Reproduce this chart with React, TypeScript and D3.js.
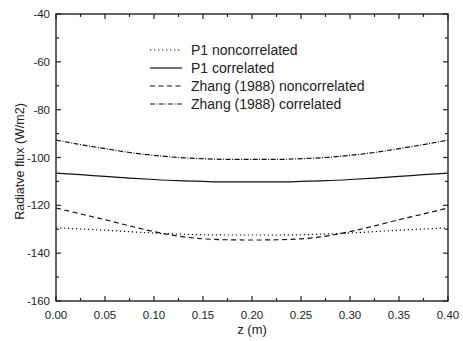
import React from "react";
import * as d3 from "d3";

const zValues = [0, 0.025, 0.05, 0.075, 0.1, 0.125, 0.15, 0.175, 0.2, 0.225, 0.25, 0.275, 0.3, 0.325, 0.35, 0.375, 0.4];
const p1NonCorrelated = [-129.4, -129.9, -130.4, -131.0, -131.6, -132.0, -132.3, -132.4, -132.4, -132.4, -132.3, -132.0, -131.6, -131.0, -130.4, -129.9, -129.4];
const p1Correlated = [-106.5, -107.2, -107.9, -108.6, -109.2, -109.7, -110.0, -110.2, -110.2, -110.2, -110.0, -109.7, -109.2, -108.6, -107.9, -107.2, -106.5];
const zhangNonCorrelated = [-121.1, -123.6, -126.0, -128.6, -131.0, -132.9, -134.0, -134.4, -134.5, -134.4, -134.0, -132.9, -131.0, -128.6, -126.0, -123.6, -121.1];
const zhangCorrelated = [-92.7, -94.6, -96.3, -97.9, -99.1, -100.0, -100.5, -100.8, -100.8, -100.8, -100.5, -100.0, -99.1, -97.9, -96.3, -94.6, -92.7];

const seriesNames = ["P1 noncorrelated", "P1 correlated", "Zhang (1988) noncorrelated", "Zhang (1988) correlated"];
const seriesDash = ["1.3,2.7", "none", "5,3.5", "5,1.5,1,1.5"];
const xTicks = [0, 0.05, 0.1, 0.15, 0.2, 0.25, 0.3, 0.35, 0.4];
const yTicks = [-40, -60, -80, -100, -120, -140, -160];
const xMinor = [0.025, 0.075, 0.125, 0.175, 0.225, 0.275, 0.325, 0.375];
const yMinor = [-50, -70, -90, -110, -130, -150];

export default function App() {
  const W = 463, H = 341;
  const L = 56, R = 448, T = 14, B = 301;
  const x = d3.scaleLinear().domain([0, 0.4]).range([L, R]);
  const y = d3.scaleLinear().domain([-160, -40]).range([B, T]);
  const allSeries = [p1NonCorrelated, p1Correlated, zhangNonCorrelated, zhangCorrelated];
  const line = d3.line<number>().x((_, i) => x(zValues[i])).y((d) => y(d)).curve(d3.curveMonotoneX);
  const font = "Liberation Sans, Arial, sans-serif";
  const axisColor = "#222";
  return (
    <svg width={W} height={H} style={{ position: "absolute", left: 0, top: 0, background: "#fff" }} fontFamily={font}>
      {allSeries.map((s, i) => (
        <path key={i} d={line(s) || ""} fill="none" stroke="#111" strokeWidth={1.2}
          strokeDasharray={seriesDash[i] === "none" ? undefined : seriesDash[i]} />
      ))}
      <rect x={L} y={T} width={R - L} height={B - T} fill="none" stroke={axisColor} strokeWidth={1.4} />
      {xTicks.map((t) => (
        <g key={"xt" + t}>
          <line x1={x(t)} x2={x(t)} y1={B} y2={B - 5} stroke={axisColor} strokeWidth={1.2} />
          <line x1={x(t)} x2={x(t)} y1={T} y2={T + 5} stroke={axisColor} strokeWidth={1.2} />
          <text x={x(t)} y={B + 18} fontSize={11.5} textAnchor="middle" fill="#222">{t.toFixed(2)}</text>
        </g>
      ))}
      {xMinor.map((t) => (
        <g key={"xm" + t}>
          <line x1={x(t)} x2={x(t)} y1={B} y2={B - 3} stroke={axisColor} strokeWidth={1.2} />
          <line x1={x(t)} x2={x(t)} y1={T} y2={T + 3} stroke={axisColor} strokeWidth={1.2} />
        </g>
      ))}
      {yTicks.map((t) => (
        <g key={"yt" + t}>
          <line x1={L} x2={L + 5} y1={y(t)} y2={y(t)} stroke={axisColor} strokeWidth={1.2} />
          <line x1={R} x2={R - 5} y1={y(t)} y2={y(t)} stroke={axisColor} strokeWidth={1.2} />
          <text x={L - 6} y={y(t) + 4} fontSize={11.5} textAnchor="end" fill="#222">{t}</text>
        </g>
      ))}
      {yMinor.map((t) => (
        <g key={"ym" + t}>
          <line x1={L} x2={L + 3} y1={y(t)} y2={y(t)} stroke={axisColor} strokeWidth={1.2} />
          <line x1={R} x2={R - 3} y1={y(t)} y2={y(t)} stroke={axisColor} strokeWidth={1.2} />
        </g>
      ))}
      <text x={(L + R) / 2} y={334} fontSize={13} textAnchor="middle" fill="#222">z (m)</text>
      <text transform={`translate(24,${(T + B) / 2 + 4}) rotate(-90)`} fontSize={12.5} textAnchor="middle" fill="#222">Radiatve flux (W/m2)</text>
      {seriesNames.map((n, i) => {
        const ly = 50 + i * 18;
        return (
          <g key={n}>
            <line x1={150} x2={182} y1={ly} y2={ly} stroke="#111" strokeWidth={1.2}
              strokeDasharray={seriesDash[i] === "none" ? undefined : seriesDash[i]} />
            <text x={191} y={ly + 5} fontSize={14} fill="#222">{n}</text>
          </g>
        );
      })}
    </svg>
  );
}
